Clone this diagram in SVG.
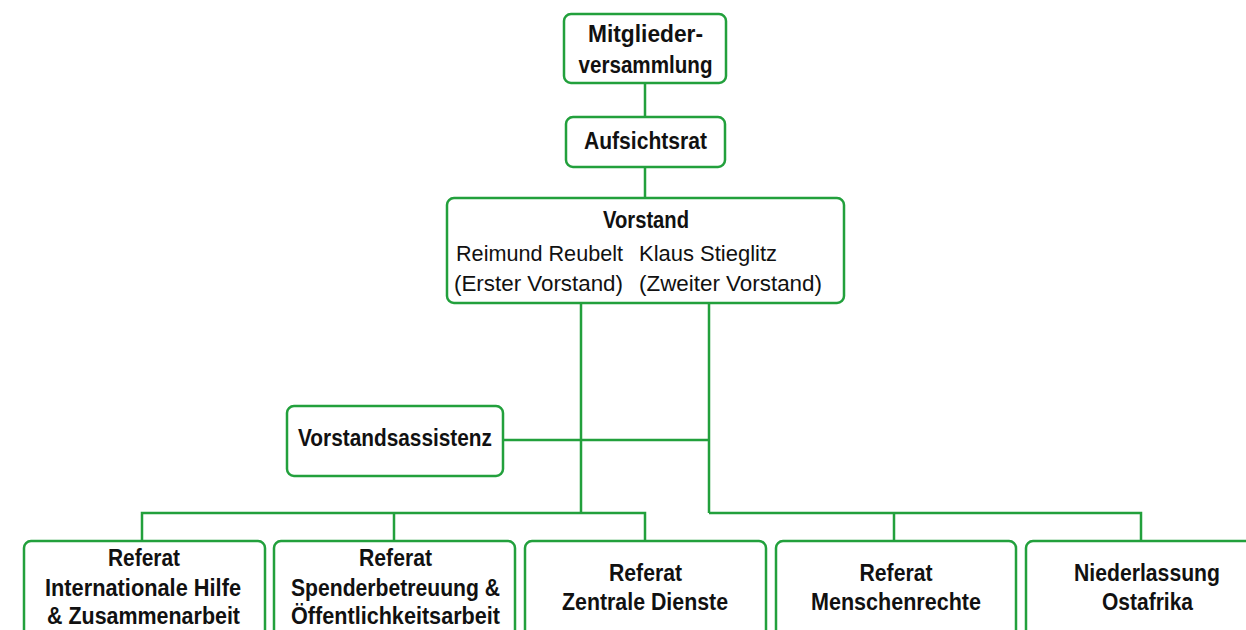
<svg xmlns="http://www.w3.org/2000/svg" width="1246" height="630" viewBox="0 0 1246 630">
<style>
.box{fill:#fff;stroke:#22a03c;stroke-width:2.5}
.con{fill:none;stroke:#22a03c;stroke-width:2.5}
.b{font-family:"Liberation Sans",Arial,sans-serif;font-weight:bold;font-size:23px;fill:#111;text-anchor:middle}
.r{font-family:"Liberation Sans",Arial,sans-serif;font-size:22px;fill:#111}
</style>
<rect width="1246" height="630" fill="#fff"/>
<g id="connectors">
<path class="con" d="M645,83V117M645,167V198"/>
<path class="con" d="M581,303V513M709,303V513M503,440H709"/>
<path class="con" d="M142,541V513H645V541M394,513V541"/>
<path class="con" d="M709,513H1141V541M894,513V541"/>
</g>
<g id="mitgliederversammlung">
<rect class="box" x="564" y="14" width="162" height="69" rx="7"/>
<text class="b" x="645.5" y="42" textLength="115" lengthAdjust="spacingAndGlyphs">Mitglieder-</text>
<text class="b" x="645.5" y="73" textLength="134" lengthAdjust="spacingAndGlyphs">versammlung</text>
</g>
<g id="aufsichtsrat">
<rect class="box" x="566" y="117" width="159" height="50" rx="7"/>
<text class="b" x="645.5" y="149" textLength="123" lengthAdjust="spacingAndGlyphs">Aufsichtsrat</text>
</g>
<g id="vorstand">
<rect class="box" x="447" y="198" width="397" height="105" rx="7"/>
<text class="b" x="646" y="228" textLength="86" lengthAdjust="spacingAndGlyphs">Vorstand</text>
<text class="r" x="456" y="261" textLength="167" lengthAdjust="spacingAndGlyphs">Reimund Reubelt</text>
<text class="r" x="454" y="291" textLength="169" lengthAdjust="spacingAndGlyphs">(Erster Vorstand)</text>
<text class="r" x="639" y="261" textLength="138" lengthAdjust="spacingAndGlyphs">Klaus Stieglitz</text>
<text class="r" x="639" y="291" textLength="183" lengthAdjust="spacingAndGlyphs">(Zweiter Vorstand)</text>
</g>
<g id="vorstandsassistenz">
<rect class="box" x="287" y="406" width="216" height="70" rx="7"/>
<text class="b" x="395" y="446" textLength="194" lengthAdjust="spacingAndGlyphs">Vorstandsassistenz</text>
</g>
<g id="referat-internationale-hilfe">
<rect class="box" x="24" y="541" width="241" height="110" rx="7"/>
<text class="b" x="144" y="566" textLength="72" lengthAdjust="spacingAndGlyphs">Referat</text>
<text class="b" x="143" y="595.5" textLength="196" lengthAdjust="spacingAndGlyphs">Internationale Hilfe</text>
<text class="b" x="143.5" y="624" textLength="193" lengthAdjust="spacingAndGlyphs">&amp; Zusammenarbeit</text>
</g>
<g id="referat-spenderbetreuung">
<rect class="box" x="274" y="541" width="241" height="110" rx="7"/>
<text class="b" x="395.5" y="566" textLength="73" lengthAdjust="spacingAndGlyphs">Referat</text>
<text class="b" x="395.5" y="595.5" textLength="209" lengthAdjust="spacingAndGlyphs">Spenderbetreuung &amp;</text>
<text class="b" x="395.5" y="624" textLength="209" lengthAdjust="spacingAndGlyphs">Öffentlichkeitsarbeit</text>
</g>
<g id="referat-zentrale-dienste">
<rect class="box" x="525" y="541" width="241" height="110" rx="7"/>
<text class="b" x="645.5" y="581" textLength="73" lengthAdjust="spacingAndGlyphs">Referat</text>
<text class="b" x="645" y="610" textLength="166" lengthAdjust="spacingAndGlyphs">Zentrale Dienste</text>
</g>
<g id="referat-menschenrechte">
<rect class="box" x="776" y="541" width="240" height="110" rx="7"/>
<text class="b" x="896" y="581" textLength="73" lengthAdjust="spacingAndGlyphs">Referat</text>
<text class="b" x="896" y="610" textLength="170" lengthAdjust="spacingAndGlyphs">Menschenrechte</text>
</g>
<g id="niederlassung-ostafrika">
<rect class="box" x="1026" y="541" width="241" height="110" rx="7"/>
<text class="b" x="1147" y="581" textLength="146" lengthAdjust="spacingAndGlyphs">Niederlassung</text>
<text class="b" x="1147.5" y="610" textLength="91" lengthAdjust="spacingAndGlyphs">Ostafrika</text>
</g>
</svg>
